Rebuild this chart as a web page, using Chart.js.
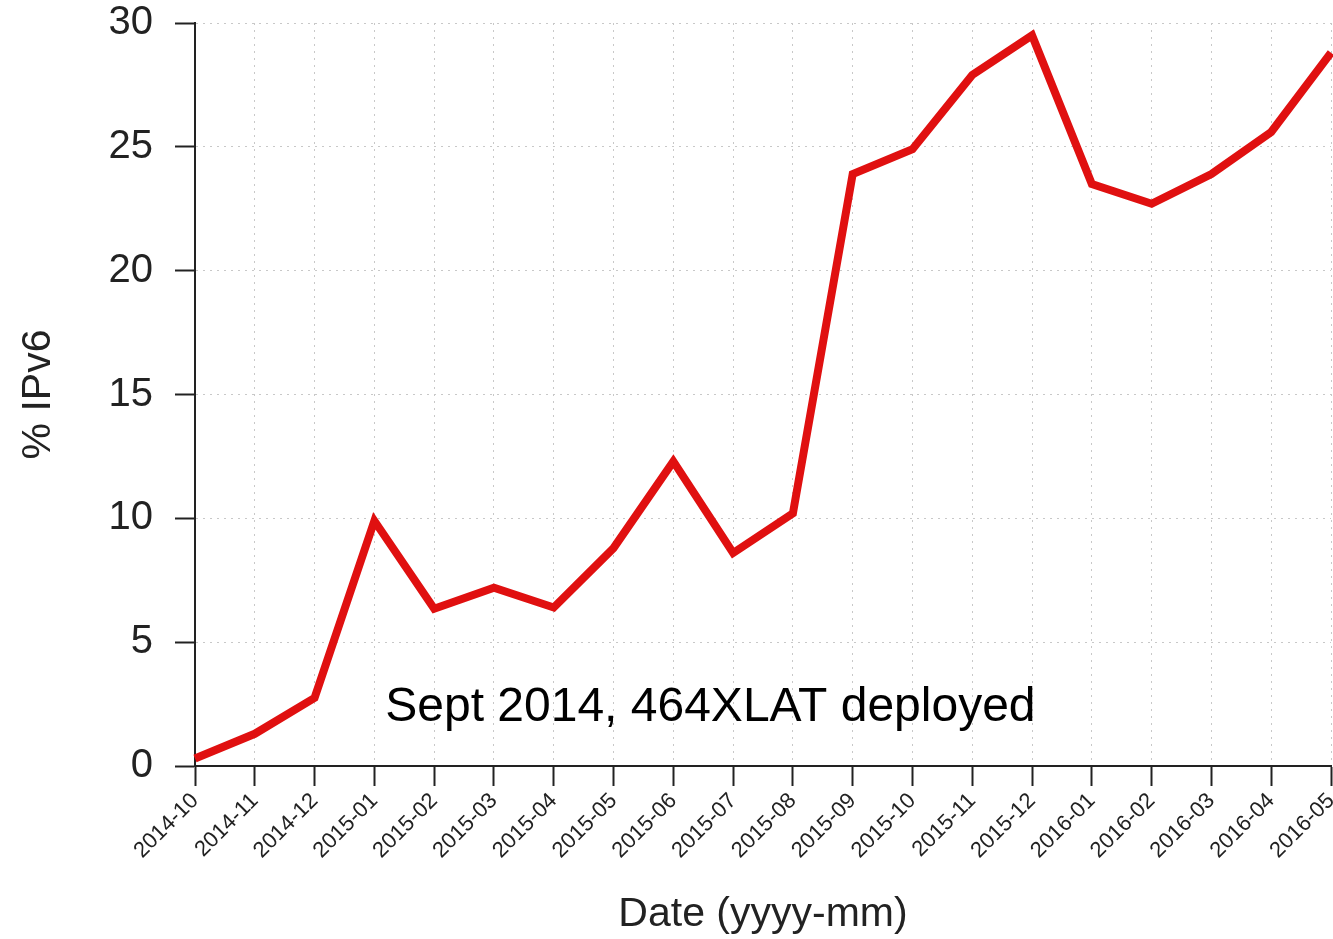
<!DOCTYPE html>
<html>
<head>
<meta charset="utf-8">
<script src="https://cdn.jsdelivr.net/npm/chart.js@4.4.1/dist/chart.umd.min.js"></script>
<style>
  html, body { margin: 0; padding: 0; background: #fff; }
  #wrap { width: 1333px; height: 939px; }
</style>
</head>
<body>
<div id="wrap"><canvas id="chart"></canvas></div>
<script>
const months = ['2014-10', '2014-11', '2014-12', '2015-01', '2015-02', '2015-03', '2015-04',
    '2015-05', '2015-06', '2015-07', '2015-08', '2015-09', '2015-10', '2015-11', '2015-12',
    '2016-01', '2016-02', '2016-03', '2016-04', '2016-05'];
const ipv6Share = [0.3, 1.3, 2.75, 9.9, 6.35, 7.2, 6.4, 8.8, 12.3, 8.6, 10.2, 23.9, 24.9,
    27.9, 29.5, 23.5, 22.7, 23.9, 25.6, 28.8];
const yTicks = [0, 5, 10, 15, 20, 25, 30];
const note = 'Sept 2014, 464XLAT deployed';

const FONT = "'Liberation Sans', Arial, sans-serif";

// text label inside the plot, positioned via the scales
const notePlugin = {
    id: 'note',
    afterDatasetsDraw(chart) {
        const ctx = chart.ctx;
        const x = chart.scales.x.getPixelForValue(8.62);
        const y = chart.scales.y.getPixelForValue(2.35);
        ctx.save();
        ctx.font = '48px ' + FONT;
        ctx.fillStyle = '#000';
        ctx.textAlign = 'center';
        ctx.textBaseline = 'middle';
        ctx.fillText(note, x, y);
        ctx.restore();
    }
};

const gridOpts = {
    color: '#c8c8c8',
    tickColor: '#222',
    tickBorderDash: [],
    tickLength: 20,
    tickWidth: 2
};

new Chart(document.getElementById('chart'), {
    type: 'line',
    data: {
        labels: months,
        datasets: [{
            label: '% IPv6',
            data: ipv6Share,
            borderColor: '#e01010',
            borderWidth: 8,
            borderJoinStyle: 'miter',
            pointRadius: 0,
            tension: 0,
            fill: false
        }]
    },
    options: {
        responsive: true,
        maintainAspectRatio: false,
        animation: false,
        layout: { padding: { top: 23, right: 2, left: 0, bottom: 0 } },
        plugins: {
            legend: { display: false },
            tooltip: { enabled: false }
        },
        scales: {
            x: {
                type: 'category',
                offset: false,
                grid: gridOpts,
                border: { display: true, color: '#222', width: 2, dash: [2, 5] },
                ticks: {
                    autoSkip: false,
                    maxRotation: 45,
                    minRotation: 45,
                    padding: 2,
                    color: '#222',
                    font: { family: FONT, size: 22 }
                },
                title: {
                    display: true,
                    text: 'Date (yyyy-mm)',
                    color: '#222',
                    font: { family: FONT, size: 41 },
                    padding: { top: 0, bottom: 0 }
                },
                afterFit(scale) {
                    scale.height = 173;
                    scale.paddingLeft = 0;
                    scale.paddingRight = 0;
                }
            },
            y: {
                min: 0,
                max: 30,
                afterBuildTicks(scale) { scale.ticks = yTicks.map(v => ({ value: v })); },
                grid: gridOpts,
                border: { display: true, color: '#222', width: 2, dash: [2, 5] },
                ticks: {
                    padding: 22,
                    color: '#222',
                    font: { family: FONT, size: 40 }
                },
                title: {
                    display: true,
                    text: '% IPv6',
                    color: '#222',
                    font: { family: FONT, size: 41 },
                    padding: { top: 14, bottom: 0 }
                },
                afterFit(scale) {
                    scale.width = 195;
                    scale.paddingTop = 0;
                    scale.paddingBottom = 0;
                }
            }
        }
    },
    plugins: [notePlugin]
});
</script>
</body>
</html>
